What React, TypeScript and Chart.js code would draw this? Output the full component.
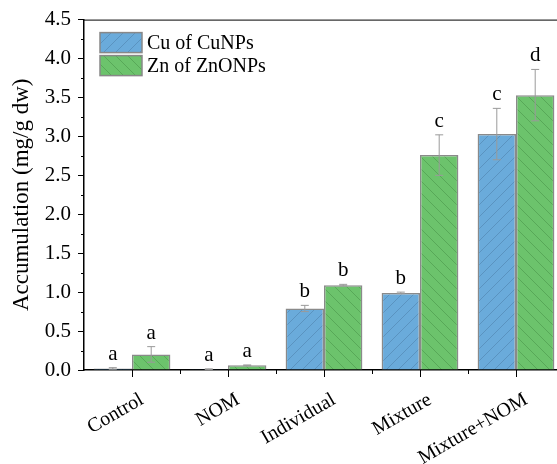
import React, { useEffect, useRef } from "react";
import { Chart, registerables } from "chart.js";

Chart.register(...registerables);

const categories = ["Control", "NOM", "Individual", "Mixture", "Mixture+NOM"];
const cuValues = [0.02, 0.01, 0.79, 0.99, 3.03];
const cuErrors = [0.01, 0.005, 0.04, 0.01, 0.33];
const cuLetters = ["a", "a", "b", "b", "c"];
const znValues = [0.2, 0.06, 1.09, 2.76, 3.53];
const znErrors = [0.1, 0.005, 0.01, 0.26, 0.33];
const znLetters = ["a", "a", "b", "c", "d"];
const seriesNames = ["Cu of CuNPs", "Zn of ZnONPs"];
const yTicks = [0, 0.5, 1, 1.5, 2, 2.5, 3, 3.5, 4, 4.5];

const BLUE = "#6aabdb";
const BLUE_LINE = "#5a93c0";
const GREEN = "#6cc36c";
const GREEN_LINE = "#58a858";
const SERIF = "'Liberation Serif', 'Times New Roman', serif";
const CW = 564;
const CH = 464;

function makePattern(bg: string, line: string, forward: boolean): CanvasPattern | string {
  const s = 12;
  const c = document.createElement("canvas");
  c.width = s;
  c.height = s;
  const g = c.getContext("2d");
  if (!g) return bg;
  g.fillStyle = bg;
  g.fillRect(0, 0, s, s);
  g.strokeStyle = line;
  g.lineWidth = 1;
  g.beginPath();
  if (forward) {
    for (let k = -1; k <= 1; k++) {
      g.moveTo(k * s, s);
      g.lineTo(k * s + s, 0);
    }
  } else {
    for (let k = -1; k <= 1; k++) {
      g.moveTo(k * s, 0);
      g.lineTo(k * s + s, s);
    }
  }
  g.stroke();
  const p = g.createPattern(c, "repeat");
  return p || bg;
}

export default function App() {
  const ref = useRef<HTMLCanvasElement | null>(null);
  useEffect(() => {
    document.body.style.margin = "0";
    const canvas = ref.current;
    if (!canvas) return;
    const bluePat = makePattern(BLUE, BLUE_LINE, true);
    const greenPat = makePattern(GREEN, GREEN_LINE, false);
    const errs = [cuErrors, znErrors];
    const letters = [cuLetters, znLetters];

    const overlay = {
      id: "overlay",
      afterDatasetsDraw(chart: any) {
        const ctx = chart.ctx;
        const y = chart.scales.y;
        const x = chart.scales.x;
        const area = chart.chartArea;
        ctx.save();
        chart.data.datasets.forEach((ds: any, di: number) => {
          const meta = chart.getDatasetMeta(di);
          meta.data.forEach((bar: any, i: number) => {
            const v = ds.data[i];
            const e = errs[di][i];
            const cx = bar.x;
            const yt = y.getPixelForValue(v + e);
            const yb = y.getPixelForValue(Math.max(0, v - e));
            ctx.strokeStyle = "#9a9a9a";
            ctx.lineWidth = 1;
            ctx.beginPath();
            ctx.moveTo(cx, yt);
            ctx.lineTo(cx, yb);
            ctx.moveTo(cx - 4, yt);
            ctx.lineTo(cx + 4, yt);
            ctx.moveTo(cx - 4, yb);
            ctx.lineTo(cx + 4, yb);
            ctx.stroke();
            ctx.fillStyle = "#000";
            ctx.font = "21px " + SERIF;
            ctx.textAlign = "center";
            ctx.textBaseline = "alphabetic";
            ctx.fillText(letters[di][i], cx, yt - 8);
          });
        });
        ctx.strokeStyle = "#000";
        ctx.lineWidth = 1;
        ctx.beginPath();
        ctx.moveTo(area.left, area.top + 0.5);
        ctx.lineTo(area.right, area.top + 0.5);
        ctx.stroke();
        ctx.beginPath();
        for (let k = 0; k < yTicks.length - 1; k++) {
          const py = Math.round(y.getPixelForValue(yTicks[k] + 0.25)) + 0.5;
          ctx.moveTo(area.left - 3, py);
          ctx.lineTo(area.left, py);
        }
        for (let i = 0; i < categories.length; i++) {
          const px = Math.round(x.getPixelForValue(i)) + 0.5;
          ctx.moveTo(px, area.bottom);
          ctx.lineTo(px, area.bottom + 7);
          const mx = Math.round(x.getPixelForValue(i + 0.5)) + 0.5;
          ctx.moveTo(mx, area.bottom);
          ctx.lineTo(mx, area.bottom + 4);
        }
        ctx.stroke();
        const items = [
          { name: seriesNames[0], fill: bluePat },
          { name: seriesNames[1], fill: greenPat },
        ];
        items.forEach((it, k) => {
          const bx = area.left + 16;
          const by = area.top + 13 + k * 23;
          ctx.fillStyle = it.fill as any;
          ctx.fillRect(bx, by, 42, 20);
          ctx.strokeStyle = "#888";
          ctx.lineWidth = 1.5;
          ctx.strokeRect(bx, by, 42, 20);
          ctx.fillStyle = "#000";
          ctx.font = "20px " + SERIF;
          ctx.textAlign = "left";
          ctx.textBaseline = "middle";
          ctx.fillText(it.name, bx + 47, by + 11);
        });
        ctx.restore();
      },
    };

    const chart = new Chart(canvas, {
      type: "bar",
      data: {
        labels: categories,
        datasets: [
          {
            label: seriesNames[0],
            data: cuValues,
            backgroundColor: bluePat as any,
            borderColor: "#8a8a8a",
            borderWidth: 1.5,
            categoryPercentage: 0.8,
            barPercentage: 1.0,
          },
          {
            label: seriesNames[1],
            data: znValues,
            backgroundColor: greenPat as any,
            borderColor: "#8a8a8a",
            borderWidth: 1.5,
            categoryPercentage: 0.8,
            barPercentage: 1.0,
          },
        ],
      },
      options: {
        animation: false,
        responsive: false,
        layout: { padding: { top: 19, right: 0, left: 0, bottom: 0 } },
        plugins: { legend: { display: false }, tooltip: { enabled: false } },
        scales: {
          x: {
            offset: true,
            grid: { display: false, drawTicks: false },
            border: { display: true, color: "#000", width: 1.5 },
            ticks: {
              autoSkip: false,
              maxRotation: 30,
              minRotation: 30,
              color: "#000",
              padding: 18,
              labelOffset: 10,
              font: { family: SERIF, size: 20 },
            },
            afterFit(scale: any) {
              scale.height = 94;
            },
          },
          y: {
            min: 0,
            max: 4.5,
            afterBuildTicks(scale: any) {
              scale.ticks = yTicks.map((v) => ({ value: v }));
            },
            grid: { drawOnChartArea: false, drawTicks: true, tickLength: 6, tickColor: "#000" },
            border: { display: true, color: "#000", width: 1.5 },
            ticks: {
              color: "#000",
              padding: 7,
              font: { family: SERIF, size: 21 },
              callback: (v: any) => Number(v).toFixed(1),
            },
            title: {
              display: true,
              text: "Accumulation (mg/g dw)",
              color: "#000",
              font: { family: SERIF, size: 23 },
              padding: { top: 8, bottom: 0 },
            },
            afterFit(scale: any) {
              scale.width = 84;
            },
          },
        },
      },
      plugins: [overlay],
    });
    return () => chart.destroy();
  }, []);
  return (
    <div style={{ position: "absolute", left: 0, top: 0, width: 557, height: 464, overflow: "hidden" }}>
      <canvas ref={ref} width={CW} height={CH} style={{ width: CW, height: CH }} />
    </div>
  );
}
